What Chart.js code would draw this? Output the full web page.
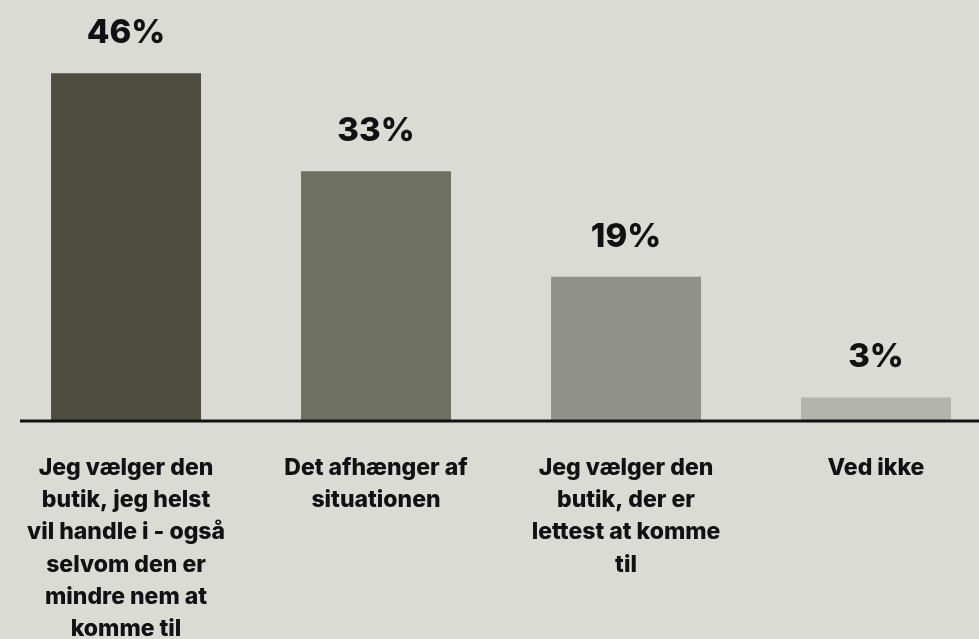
<!DOCTYPE html>
<html>
<head>
<meta charset="utf-8">
<script src="https://cdn.jsdelivr.net/npm/chart.js@4.4.1/dist/chart.umd.min.js"></script>
<style>
  html, body { margin: 0; padding: 0; background: #dbdbd5; overflow: hidden; }
  #wrap { width: 1006px; height: 639px; margin-left: -5px; }
</style>
</head>
<body>
<div id="wrap"><canvas id="chart" width="1006" height="639"></canvas></div>
<script>
// Answers, wrapped into the lines they are shown on
const categories = [
  ['Jeg vælger den', 'butik, jeg helst', 'vil handle i - også', 'selvom den er', 'mindre nem at', 'komme til'],
  ['Det afhænger af', 'situationen'],
  ['Jeg vælger den', 'butik, der er', 'lettest at komme', 'til'],
  ['Ved ikke']
];
const shares = [46, 33, 19, 3];
const barColors = ['#4d4e40', '#6e7062', '#8f918a', '#b3b4ab'];

Chart.defaults.font.family = 'Inter, "Noto Sans", sans-serif';

// Percent above each bar
const valueLabels = {
  id: 'valueLabels',
  afterDatasetsDraw(chart) {
    const ctx = chart.ctx;
    const meta = chart.getDatasetMeta(0);
    ctx.save();
    ctx.font = '800 33px Inter, sans-serif';
    ctx.fillStyle = '#111';
    ctx.textAlign = 'center';
    ctx.textBaseline = 'alphabetic';
    meta.data.forEach((bar, i) => {
      ctx.fillText(shares[i] + '%', bar.x, bar.y - 30);
    });
    ctx.restore();
  }
};

// Black baseline under the bars
const baseline = {
  id: 'baseline',
  afterDatasetsDraw(chart) {
    const ctx = chart.ctx;
    const y = chart.scales.y.getPixelForValue(0) + 1;
    ctx.save();
    ctx.strokeStyle = '#111';
    ctx.lineWidth = 3;
    ctx.beginPath();
    ctx.moveTo(chart.chartArea.left + 19, y);
    ctx.lineTo(chart.width, y);
    ctx.stroke();
    ctx.restore();
  }
};

new Chart(document.getElementById('chart'), {
  type: 'bar',
  data: {
    labels: categories,
    datasets: [{
      data: shares,
      backgroundColor: barColors,
      barPercentage: 0.6,
      categoryPercentage: 1
    }]
  },
  options: {
    responsive: false,
    animation: false,
    layout: { padding: 0 },
    plugins: {
      legend: { display: false },
      tooltip: { enabled: false }
    },
    scales: {
      x: {
        grid: { display: false, drawTicks: false },
        border: { display: false },
        ticks: {
          color: '#111',
          font: { size: 23, weight: '800', lineHeight: 1.4 },
          padding: 32,
          maxRotation: 0,
          minRotation: 0,
          autoSkip: false
        },
        afterFit(scale) { scale.height = 219; }
      },
      y: {
        display: false,
        min: 0,
        max: 55.7
      }
    }
  },
  plugins: [valueLabels, baseline]
});
</script>
</body>
</html>
